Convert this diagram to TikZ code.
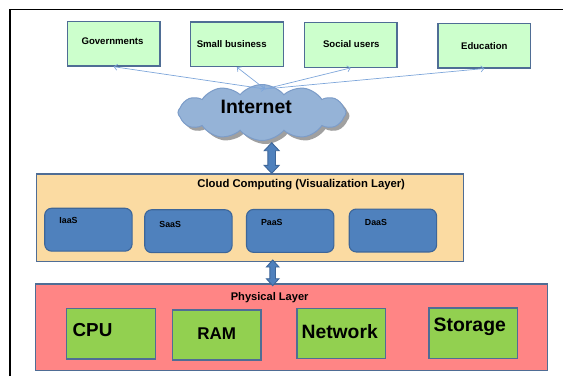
\documentclass[tikz,border=0pt]{standalone}
\usepackage{fontspec}
\setmainfont{Liberation Sans}
\usetikzlibrary{shapes.symbols,shadows,calc,arrows.meta}

\definecolor{userfill}{HTML}{CCFFCC}
\definecolor{boxline}{HTML}{4F6D95}
\definecolor{cloudfill}{HTML}{95B3D7}
\definecolor{cloudline}{HTML}{7C9CC8}
\definecolor{linkblue}{HTML}{7EA6DA}
\definecolor{virtfill}{HTML}{FBDBA2}
\definecolor{svcfill}{HTML}{4F81BD}
\definecolor{svcline}{HTML}{3D6699}
\definecolor{physfill}{HTML}{FF8585}
\definecolor{hwfill}{HTML}{92D050}

\tikzset{
  lbl/.style={font=\bfseries, inner sep=0pt, text height=.72em, text depth=0pt},
  userbox/.style={draw=boxline, fill=userfill, line width=1.4pt, inner sep=0pt,
    minimum width=92.6pt, minimum height=44.6pt},
  svcbox/.style={draw=svcline, fill=svcfill, line width=1.1pt, rounded corners=7pt,
    inner sep=0pt, minimum width=87.4pt, minimum height=42.9pt},
  hwbox/.style={draw=boxline, fill=hwfill, line width=1.3pt, inner sep=0pt,
    minimum width=88.7pt, minimum height=50.2pt},
  layerbox/.style={draw=boxline, line width=1.2pt, inner sep=0pt},
  link/.style={draw=linkblue, line width=0.7pt},
  fatarrow/.style={draw=svcline, fill=svcfill, line width=0.9pt},
}

% vertical double-headed block arrow: top apex, bottom apex, half shaft, half head, head length
\newcommand\fatarrow[5]{%
  \filldraw[fatarrow] (#1) -- ($(#1)+(#4,#5)$) -- ($(#1)+(#3,#5)$)
    -- ($(#2)+(#3,-#5)$) -- ($(#2)+(#4,-#5)$) -- (#2)
    -- ($(#2)+(-#4,-#5)$) -- ($(#2)+(-#3,-#5)$)
    -- ($(#1)+(-#3,#5)$) -- ($(#1)+(-#4,#5)$) -- cycle;}

\begin{document}
\begin{tikzpicture}[x=1pt,y=-1pt]
\useasboundingbox (0,0) rectangle (563,376);

% outer frame (left and top edges)
\draw[black, line width=1.5pt] (10,376) -- (10,9.3) -- (563,9.3);

% users
\node[userbox] (gov) at (113.7,43.7) {};
\node[userbox] (sb)  at (236.9,44.2) {};
\node[userbox] (su)  at (350.7,44.9) {};
\node[userbox] (edu) at (484.4,45.5) {};
\node[lbl, font=\fontsize{9.6}{11}\selectfont\bfseries] (govt) at (112.5,40.7) {Governments};
\node[lbl, font=\fontsize{9.6}{11}\selectfont\bfseries] (sbt)  at (231.7,44.3) {Small business};
\node[lbl, font=\fontsize{9.6}{11}\selectfont\bfseries] (sut)  at (351.3,44.0) {Social users};
\node[lbl, font=\fontsize{9.6}{11}\selectfont\bfseries] (edut) at (484.3,45.7) {Education};

% internet cloud
\node[cloud, cloud puffs=12, cloud puff arc=100, aspect=2.9,
      draw=cloudline, fill=cloudfill, line width=1pt,
      minimum width=168pt, minimum height=56pt, inner sep=0pt,
      drop shadow={shadow xshift=3.5pt, shadow yshift=-3.5pt, fill=black!50, opacity=0.75}]
      (cloud) at (262,112.5) {};
\node[lbl, font=\fontsize{19.4}{22}\selectfont\bfseries] (cloudt) at (256.2,110) {Internet};

\coordinate (hub) at (265,89);
\draw[link, {Straight Barb[length=3pt,width=6pt]}-{Straight Barb[length=3pt,width=6pt]}] (hub) -- (gov.south);
\draw[link, {Straight Barb[length=3pt,width=6pt]}-{Straight Barb[length=3pt,width=6pt]}] (hub) -- (sb.south);
\draw[link, -{Straight Barb[length=3pt,width=6pt]}] (hub) -- (su.south);
\draw[link, -{Straight Barb[length=3pt,width=6pt]}] (hub) -- (edu.south);

% virtualization layer
\node[layerbox, fill=virtfill, minimum width=427.4pt, minimum height=87.5pt] (cc) at (250,217.7) {};
\node[lbl, font=\fontsize{11.3}{13}\selectfont\bfseries] (cct) at (301.2,184) {Cloud Computing (Visualization Layer)};

\node[svcbox] (iaas) at (88.4,229.7) {};
\node[svcbox] (saas) at (188.4,231.2) {};
\node[svcbox] (paas) at (290.2,230.9) {};
\node[svcbox] (daas) at (392.9,230.5) {};
\node[lbl, font=\fontsize{8.8}{10}\selectfont\bfseries] (iaast) at (68.5,220) {IaaS};
\node[lbl, font=\fontsize{8.8}{10}\selectfont\bfseries] (saast) at (170.2,223.7) {SaaS};
\node[lbl, font=\fontsize{8.8}{10}\selectfont\bfseries] (paast) at (271.8,222.3) {PaaS};
\node[lbl, font=\fontsize{8.8}{10}\selectfont\bfseries] (daast) at (376,221.7) {DaaS};

% physical layer
\node[layerbox, fill=physfill, minimum width=511.8pt, minimum height=86.2pt] (phys) at (291.2,327) {};
\node[lbl, font=\fontsize{11.1}{13}\selectfont\bfseries] (physt) at (269.7,296.7) {Physical Layer};

\node[hwbox] (cpu) at (111,333.8) {};
\node[hwbox] (ram) at (216.7,335) {};
\node[hwbox] (net) at (341.4,333.5) {};
\node[hwbox] (sto) at (473.3,333.2) {};
\node[lbl, font=\fontsize{18.8}{22}\selectfont\bfseries] (cput) at (92.5,333.3) {CPU};
\node[lbl, font=\fontsize{17}{20}\selectfont\bfseries]   (ramt) at (216.7,335.7) {RAM};
\node[lbl, font=\fontsize{19.3}{22}\selectfont\bfseries] (nett) at (339.7,335) {Network};
\node[lbl, font=\fontsize{19.4}{22}\selectfont\bfseries] (stot) at (469.8,327.7) {Storage};

% block arrows between the layers
\coordinate (f1t) at (271.7,142.7);
\coordinate (f1b) at (f1t |- cc.north);
\fatarrow{f1t}{f1b}{3.8}{7.5}{8}
\coordinate (f2t) at (272.7,260);
\coordinate (f2b) at (272.7,285.7);
\fatarrow{f2t}{f2b}{2.8}{6.3}{7}
\end{tikzpicture}
\end{document}
